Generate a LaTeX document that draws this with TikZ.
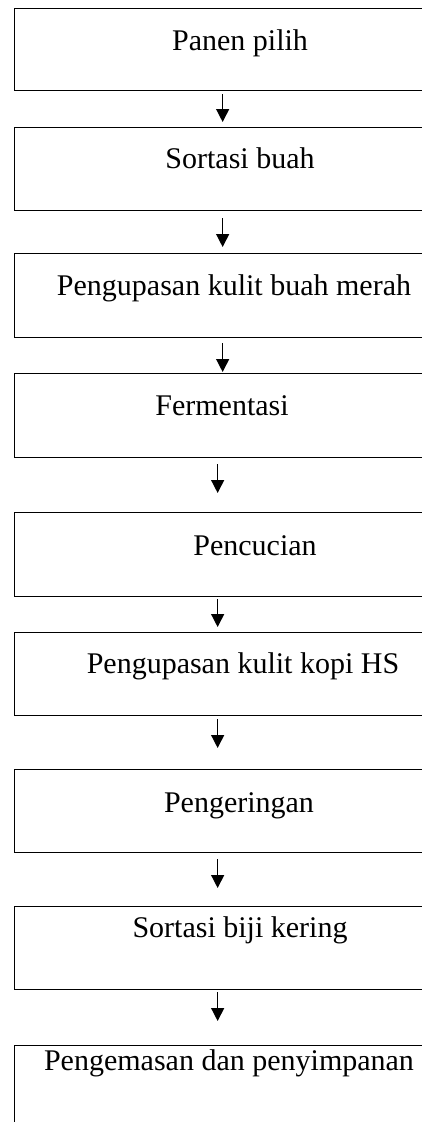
\documentclass[tikz,border=0pt]{standalone}
\usepackage{fontspec}
\setmainfont{Liberation Serif}
\usetikzlibrary{arrows.meta}
\begin{document}
\begin{tikzpicture}[x=1pt,y=-1pt,
  stepbox/.style={draw,line width=1.3pt,rectangle,minimum width=416pt,anchor=north west,inner sep=0pt},
  lbl/.style={anchor=base,inner sep=0pt,font=\fontsize{30}{34}\selectfont},
  arr/.style={line width=1.3pt,-{Triangle[width=13pt,length=13pt]}}]
\clip (0,0) rectangle (422,1122);
\fill[white] (0,0) rectangle (422,1122);
% boxes
\node[stepbox,minimum height=82pt] (b1) at (14,8) {};
\node[stepbox,minimum height=83pt] (b2) at (14,127) {};
\node[stepbox,minimum height=84pt] (b3) at (14,253) {};
\node[stepbox,minimum height=84pt] (b4) at (14,373) {};
\node[stepbox,minimum height=84pt] (b5) at (14,512) {};
\node[stepbox,minimum height=83pt] (b6) at (14,632) {};
\node[stepbox,minimum height=83pt] (b7) at (14,769) {};
\node[stepbox,minimum height=83pt] (b8) at (14,906) {};
\node[stepbox,minimum height=100pt] (b9) at (14,1045) {};
% labels
\node[lbl] (t1) at (240,50) {Panen pilih};
\node[lbl] (t2) at (240,168) {Sortasi buah};
\node[lbl] (t3) at (234,295) {Pengupasan kulit buah merah};
\node[lbl] (t4) at (222,415) {Fermentasi};
\node[lbl] (t5) at (255,555) {Pencucian};
\node[lbl] (t6) at (243,673) {Pengupasan kulit kopi HS};
\node[lbl] (t7) at (239,812) {Pengeringan};
\node[lbl] (t8) at (240,937) {Sortasi biji kering};
\node[lbl] (t9) at (229,1070) {Pengemasan dan penyimpanan};
% arrows
\draw[arr] ([yshift=-3pt]b1.south) -- ([yshift=5pt]b2.north);
\draw[arr] ([yshift=-7pt]b2.south) -- ([yshift=6pt]b3.north);
\draw[arr] ([yshift=-5pt]b3.south) -- ([yshift=1pt]b4.north);
\draw[arr] ([xshift=-5pt,yshift=-6pt]b4.south) -- ([xshift=-5pt,yshift=19pt]b5.north);
\draw[arr] ([xshift=-5pt,yshift=-2pt]b5.south) -- ([xshift=-5pt,yshift=5pt]b6.north);
\draw[arr] ([xshift=-5pt,yshift=-3pt]b6.south) -- ([xshift=-5pt,yshift=21pt]b7.north);
\draw[arr] ([xshift=-5pt,yshift=-6pt]b7.south) -- ([xshift=-5pt,yshift=18pt]b8.north);
\draw[arr] ([xshift=-5pt,yshift=-2pt]b8.south) -- ([xshift=-5pt,yshift=24pt]b9.north);
\end{tikzpicture}
\end{document}
